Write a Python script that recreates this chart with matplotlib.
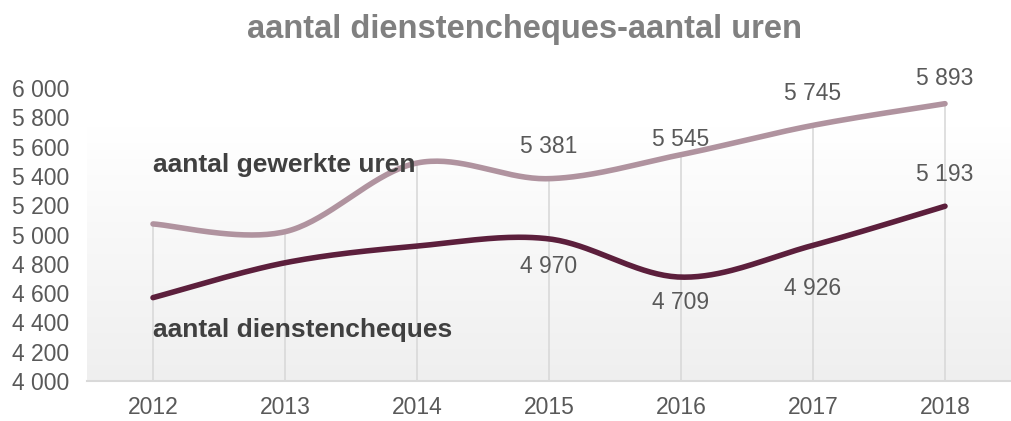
import numpy as np
import matplotlib.pyplot as plt

plt.rcParams['font.family'] = ['Liberation Sans', 'DejaVu Sans']

jaren = ['2012', '2013', '2014', '2015', '2016', '2017', '2018']
uren = [5072, 5019, 5488, 5381, 5545, 5745, 5893]
cheques = [4569, 4807, 4921, 4970, 4709, 4926, 5193]
y_ticks = [4000, 4200, 4400, 4600, 4800, 5000, 5200, 5400, 5600, 5800, 6000]

kleur_uren = '#b0939f'
kleur_cheques = '#5c1f3c'
tekstgrijs = '#595959'


def smooth(x, y, n=40):
    # bezier smoothing like excel's "smoothed line"
    x = np.asarray(x, float)
    y = np.asarray(y, float)
    px = np.concatenate([[x[0]], x, [x[-1]]])
    py = np.concatenate([[y[0]], y, [y[-1]]])
    xs, ys = [], []
    t = np.linspace(0, 1, n)
    for i in range(1, len(px) - 2):
        p0 = np.array([px[i], py[i]])
        p3 = np.array([px[i + 1], py[i + 1]])
        p1 = p0 + (np.array([px[i + 1], py[i + 1]]) - np.array([px[i - 1], py[i - 1]])) / 6
        p2 = p3 - (np.array([px[i + 2], py[i + 2]]) - np.array([px[i], py[i]])) / 6
        b = ((1 - t) ** 3)[:, None] * p0 + (3 * (1 - t) ** 2 * t)[:, None] * p1 \
            + (3 * (1 - t) * t ** 2)[:, None] * p2 + (t ** 3)[:, None] * p3
        xs.extend(b[:, 0])
        ys.extend(b[:, 1])
    return np.array(xs), np.array(ys)


fig = plt.figure(figsize=(10.11, 4.21), dpi=100)
ax = fig.add_axes([87 / 1011, 40 / 421, (1011 - 87) / 1011, (381 - 88) / 421])

x = np.arange(len(jaren))
ax.set_xlim(-0.5, 6.5)
ax.set_ylim(4000, 6000)

# achtergrond verloop
grad = np.linspace(0, 1, 256)[:, None]
ax.imshow(grad, extent=(-0.5, 6.5, 4000, 5730), aspect='auto', origin='upper',
          cmap=plt.matplotlib.colors.LinearSegmentedColormap.from_list('g', ['#ffffff', '#efefef']),
          zorder=0)

# drop lines
ax.vlines(x, 4000, np.maximum(uren, cheques), color='#d9d9d9', lw=1.2, zorder=1)

sx, sy = smooth(x, uren)
ax.plot(sx, sy, color=kleur_uren, lw=4, solid_capstyle='round', zorder=3)
sx, sy = smooth(x, cheques)
ax.plot(sx, sy, color=kleur_cheques, lw=4, solid_capstyle='round', zorder=3)


def fmt(v):
    return '{:,}'.format(v).replace(',', ' ')


offs_uren = [None, None, None, 23, 11, 23, 18]
offs_cheques = [None, None, None, -20, -18, -31, 23]
for i in range(len(jaren)):
    if offs_uren[i] is not None:
        ax.annotate(fmt(uren[i]), (x[i], uren[i]), xytext=(0, offs_uren[i]),
                    textcoords='offset points', ha='center', va='center',
                    fontsize=16.5, color=tekstgrijs, zorder=4)
    if offs_cheques[i] is not None:
        ax.annotate(fmt(cheques[i]), (x[i], cheques[i]), xytext=(0, offs_cheques[i]),
                    textcoords='offset points', ha='center', va='center',
                    fontsize=16.5, color=tekstgrijs, zorder=4)

ax.text(0, 5475, 'aantal gewerkte uren', fontsize=19, fontweight='bold',
        color='#404040', ha='left', va='center', zorder=4)
ax.text(0, 4350, 'aantal dienstencheques', fontsize=19, fontweight='bold',
        color='#404040', ha='left', va='center', zorder=4)

ax.set_xticks(x)
ax.set_xticklabels(jaren)
ax.set_yticks(y_ticks)
ax.set_yticklabels([fmt(v) for v in y_ticks])
ax.tick_params(length=0, labelsize=16.5, colors=tekstgrijs)
ax.tick_params(axis='x', pad=11)
for lab in ax.get_yticklabels():
    lab.set_horizontalalignment('left')
ax.yaxis.set_tick_params(pad=54)

for s in ['top', 'right', 'left']:
    ax.spines[s].set_visible(False)
ax.spines['bottom'].set_color('#d9d9d9')
ax.spines['bottom'].set_linewidth(1.5)

fig.text(0.519, 0.93, 'aantal dienstencheques-aantal uren', ha='center', va='center',
         fontsize=23.5, fontweight='bold', color='#808080')

fig.savefig('out.png', dpi=100)
